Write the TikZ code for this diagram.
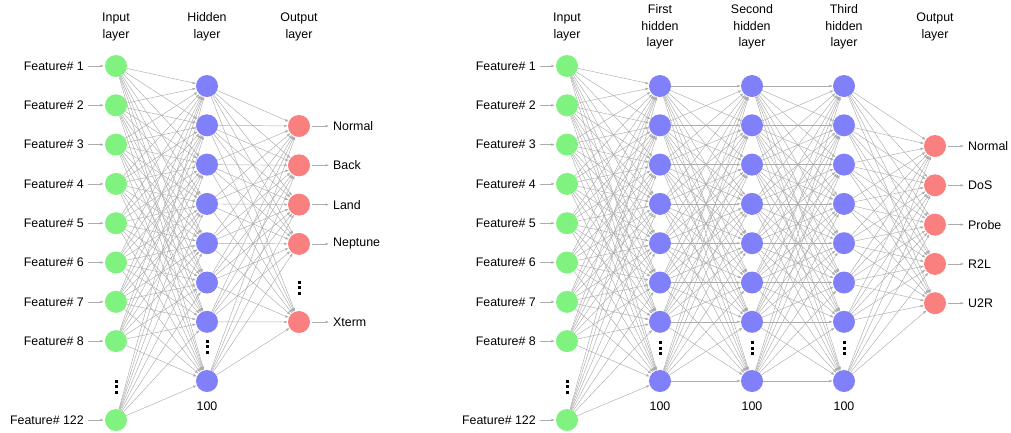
\documentclass[tikz,border=0pt]{standalone}
\usepackage{fontspec}
\setmainfont{Liberation Sans}
\usetikzlibrary{arrows.meta}
\definecolor{ngreen}{RGB}{128,242,128}
\definecolor{nblue}{RGB}{128,128,250}
\definecolor{nred}{RGB}{250,128,128}
\definecolor{edgec}{RGB}{172,172,172}
\newcommand{\dotstack}[2]{%
  \foreach \dd in {-5.5,0,5.5} {\fill[black] ({#1-1.5},{#2+\dd-1.5}) rectangle ++(3,3);}}
\begin{document}
\begin{tikzpicture}[x=1pt,y=-1pt,
  font=\fontsize{12.4}{16.5}\selectfont,
  neuron/.style={circle, minimum size=22pt, inner sep=0pt},
  inp/.style={neuron, fill=ngreen},
  hid/.style={neuron, fill=nblue},
  outn/.style={neuron, fill=nred},
  conn/.style={draw=edgec, line width=0.45pt, -{Latex[length=3.5pt,width=2.6pt]}},
  side/.style={draw=edgec, line width=0.5pt, -{Latex[length=3.5pt,width=2.6pt]}},
  lab/.style={inner sep=0pt},
  head/.style={align=center, inner sep=0pt}]
\useasboundingbox (0,0) rectangle (1011,432);

% ---------------- LEFT NETWORK ----------------
\node[head] (Lhi) at (116,27) {Input\\layer};
\node[head] (Lhh) at (207,27) {Hidden\\layer};
\node[head] (Lho) at (299,27) {Output\\layer};

\foreach \i/\y/\t in {1/66/1,2/105.3/2,3/144.6/3,4/183.9/4,5/223.2/5,6/262.5/6,7/301.8/7,8/341.1/8,9/420/122} {
  \node[inp] (Li\i) at (116,\y) {};
  \node[lab, anchor=east] (Lf\i) at (84,\y) {Feature\# \t};
  \draw[side, shorten <=4pt, shorten >=1pt] (Lf\i.east) -- (Li\i);
}
\foreach \j/\y in {1/86,2/125.3,3/164.6,4/203.9,5/243.2,6/282.5,7/321.8,8/381} {
  \node[hid] (Lh\j) at (207,\y) {};
}
\node[lab] (Ln) at (207,406) {100};
\foreach \k/\y/\t in {1/126/Normal,2/165.3/Back,3/204.6/Land,4/243.9/Neptune,5/322/Xterm} {
  \node[outn] (Lo\k) at (299,\y) {};
  \node[lab, anchor=west] (Lt\k) at (333,\y) {\t};
  \draw[side, shorten <=2pt, shorten >=4pt] (Lo\k) -- (Lt\k.west);
}
\foreach \i in {1,...,9} \foreach \j in {1,...,8} \draw[conn] (Li\i) -- (Lh\j);
\foreach \j in {1,...,8} \foreach \k in {1,...,5} \draw[conn] (Lh\j) -- (Lo\k);

\dotstack{116}{386.5}
\dotstack{207}{346.5}
\dotstack{299}{287.5}

% ---------------- RIGHT NETWORK ----------------
\node[head] (Rhi) at (567,27) {Input\\layer};
\node[head] (Rh1t) at (660,27) {First\\hidden\\layer};
\node[head] (Rh2t) at (752,27) {Second\\hidden\\layer};
\node[head] (Rh3t) at (844,27) {Third\\hidden\\layer};
\node[head] (Rhot) at (935,27) {Output\\layer};

\foreach \i/\y/\t in {1/66/1,2/105.3/2,3/144.6/3,4/183.9/4,5/223.2/5,6/262.5/6,7/301.8/7,8/341.1/8,9/420/122} {
  \node[inp] (Ri\i) at (567,\y) {};
  \node[lab, anchor=east] (Rf\i) at (536,\y) {Feature\# \t};
  \draw[side, shorten <=4pt, shorten >=1pt] (Rf\i.east) -- (Ri\i);
}
\foreach \L/\x in {a/660,b/752,c/844} {
  \foreach \j/\y in {1/86,2/125.3,3/164.6,4/203.9,5/243.2,6/282.5,7/321.8,8/381} {
    \node[hid] (R\L\j) at (\x,\y) {};
  }
  \node[lab] (Rn\L) at (\x,406) {100};
}
\foreach \k/\y/\t in {1/146/Normal,2/185.3/DoS,3/224.6/Probe,4/263.9/R2L,5/303.2/U2R} {
  \node[outn] (Ro\k) at (935,\y) {};
  \node[lab, anchor=west] (Rt\k) at (968,\y) {\t};
  \draw[side, shorten <=2pt, shorten >=4pt] (Ro\k) -- (Rt\k.west);
}
\foreach \i in {1,...,9} \foreach \j in {1,...,8} \draw[conn] (Ri\i) -- (Ra\j);
\foreach \i in {1,...,8} \foreach \j in {1,...,8} \draw[conn] (Ra\i) -- (Rb\j);
\foreach \i in {1,...,8} \foreach \j in {1,...,8} \draw[conn] (Rb\i) -- (Rc\j);
\foreach \j in {1,...,8} \foreach \k in {1,...,5} \draw[conn] (Rc\j) -- (Ro\k);

\dotstack{567}{386.5}
\dotstack{660}{348}
\dotstack{752}{348}
\dotstack{844}{348}
\end{tikzpicture}
\end{document}
